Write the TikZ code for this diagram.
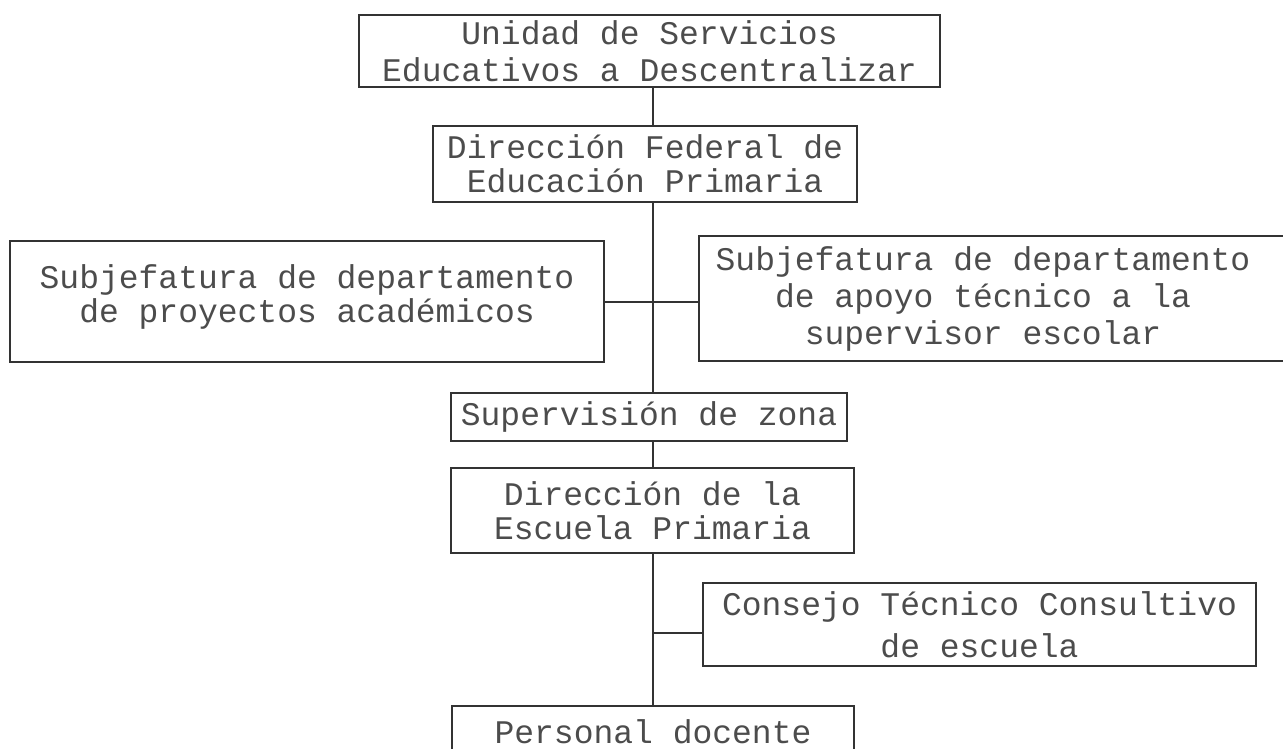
\documentclass[tikz,border=0pt]{standalone}
\usepackage{fontspec}
\newfontfamily\maquina{Liberation Mono}
\begin{document}
\begin{tikzpicture}[x=1pt,y=-1pt,
  caja/.style={draw=black!80,line width=1.8pt,inner sep=0pt,align=center,
    text=black!70,font=\maquina\fontsize{33}{34}\selectfont},
  linea/.style={draw=black!80,line width=1.8pt}]
  \useasboundingbox (0,0) rectangle (1283,748);
  \coordinate (eje) at (653,0);
  \coordinate (cruce) at (653,302);
  \coordinate (cruceb) at (653,633);

  \node[caja,minimum width=581,minimum height=72] (unidad) at (649.5,51)
    {Unidad de Servicios\\[3pt]Educativos a Descentralizar};
  \node[caja,minimum width=424,minimum height=76] (federal) at (645,164)
    {Dirección Federal de\\Educación Primaria};
  \node[caja,minimum width=594,minimum height=121] (proyectos) at (307,301.5)
    {Subjefatura de departamento\\de proyectos académicos\\[-18pt]\mbox{}};
  \node[caja,draw=none,minimum width=566,minimum height=123] (apoyo) at (983,298.5)
    {Subjefatura de departamento\\[3pt]de apoyo técnico a la\\[3pt]supervisor escolar};
  \node[caja,minimum width=396,minimum height=48] (zona) at (649,417)
    {Supervisión de zona};
  \node[caja,minimum width=403,minimum height=85] (escuela) at (652.5,510.5)
    {Dirección de la\\Escuela Primaria};
  \node[caja,minimum width=553,minimum height=83] (consejo) at (979.5,624.5)
    {Consejo Técnico Consultivo\\[8pt]de escuela};
  \node[caja,minimum width=402,minimum height=52] (docente) at (653,732)
    {Personal docente};

  % caja abierta a la derecha
  \draw[linea] ([xshift=40pt]apoyo.north east) -| (apoyo.south west)
    -- ([xshift=40pt]apoyo.south east);

  \draw[linea] (unidad.south -| eje) -- (federal.north -| eje);
  \draw[linea] (federal.south -| eje) -- (zona.north -| eje);
  \draw[linea] (zona.south -| eje) -- (escuela.north -| eje);
  \draw[linea] (escuela.south -| eje) -- (docente.north -| eje);
  \draw[linea] (cruce -| proyectos.east) -- (cruce -| apoyo.west);
  \draw[linea] (cruceb) -- (cruceb -| consejo.west);
\end{tikzpicture}
\end{document}
